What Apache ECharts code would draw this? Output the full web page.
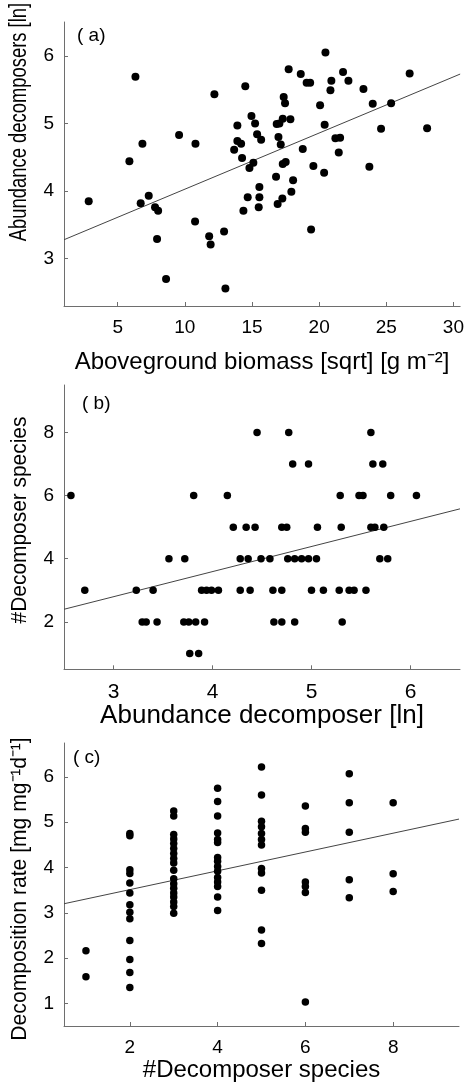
<!DOCTYPE html>
<html><head><meta charset="utf-8">
<script src="https://cdn.jsdelivr.net/npm/echarts@6/dist/echarts.min.js"></script>
<style>html,body{margin:0;padding:0;background:#fff}#c{width:467px;height:1083px}</style>
</head><body><div id="c"></div>
<script>
// ---- Panel (a): aboveground biomass vs abundance of decomposers ----
const biomassA = [6.32,12.2,14.5,17.73,18.63,19.07,19.33,20.47,20.91,21.78,22.18,20.84,23.3,26.74,23.99,25.36,17.36,17.46,20.07,14.96,
  15.23,13.91,16.84,17.04,17.29,17.86,20.41,9.57,6.84,10.79,15.38,15.68,13.91,14.19,16.97,17.14,24.61,28.04,21.21,21.56,
  5.87,13.67,14.26,18.78,21.46,15.10,14.81,17.29,17.51,19.57,20.37,23.74,16.79,18.06,15.55,2.84,7.31,6.71,7.78,8.01,
  14.68,15.55,14.36,15.50,16.91,17.26,17.93,19.40,10.76,11.81,11.92,12.92,7.93,8.60,13.02];
const abundanceA = [5.69,5.43,5.55,5.80,5.73,5.60,5.60,6.05,5.63,5.76,5.63,5.49,5.51,5.74,5.29,5.30,5.39,5.30,5.27,5.11,
  5.00,4.97,4.99,5.00,5.07,5.06,4.98,4.83,4.70,4.70,4.84,4.76,4.74,4.70,4.80,4.69,4.92,4.93,4.78,4.79,
  4.44,4.61,4.49,4.62,4.57,4.42,4.34,4.40,4.43,4.37,4.27,4.36,4.21,4.16,4.06,3.85,3.93,3.82,3.76,3.71,
  3.91,3.91,3.71,3.76,3.81,3.89,3.99,3.43,3.55,3.33,3.21,3.40,3.29,2.70,2.56];
const fitAx = [1, 30.5];
const fitAy = [3.28, 5.73];
const ticksAx = [5,10,15,20,25,30];
const ticksAy = [3,4,5,6];

// ---- Panel (b): abundance of decomposers vs number of decomposer species ----
const abundanceB = [4.45,4.77,5.60,
  4.81,4.97,5.62,5.72,
  2.57,3.81,4.15,5.29,5.48,5.52,5.80,6.06,
  4.21,4.34,4.43,4.70,4.75,5.06,5.30,5.60,5.64,5.73,
  3.56,3.72,4.28,4.36,4.49,4.58,4.76,4.83,4.90,4.97,5.05,5.69,5.77,
  2.71,3.23,3.40,3.89,3.94,3.99,4.06,4.28,4.38,4.61,4.70,5.00,5.12,5.28,5.38,5.43,5.55,
  3.29,3.33,3.44,3.71,3.76,3.83,3.92,4.62,4.70,4.83,5.31,
  3.77,3.86];
const speciesB = [8,8,8,
  7,7,7,7,
  6,6,6,6,6,6,6,6,
  5,5,5,5,5,5,5,5,5,5,
  4,4,4,4,4,4,4,4,4,4,4,4,4,
  3,3,3,3,3,3,3,3,3,3,3,3,3,3,3,3,3,
  2,2,2,2,2,2,2,2,2,2,2,
  1,1];
const fitBx = [2.5, 6.5];
const fitBy = [2.40, 5.58];
const ticksBx = [3,4,5,6];
const ticksBy = [2,4,6,8];

// ---- Panel (c): number of decomposer species vs decomposition rate ----
const speciesC = [1,1,
  2,2,2,2,2,2,2,2,2,2,2,2,2,
  3,3,3,3,3,3,3,3,3,3,3,3,3,3,3,3,3,3,
  4,4,4,4,4,4,4,4,4,4,4,4,4,4,4,
  5,5,5,5,5,5,5,5,5,5,5,5,
  6,6,6,6,6,6,6,
  7,7,7,7,7,
  8,8,8];
const rateC = [2.16,1.59,
  4.75,4.70,3.95,3.87,3.66,3.44,3.18,3.01,2.87,2.39,1.97,1.68,1.35,
  5.25,5.14,4.73,4.63,4.53,4.42,4.31,4.20,4.10,3.94,3.75,3.64,3.54,3.44,3.35,3.24,3.14,2.99,
  5.75,5.46,5.14,4.76,4.62,4.55,4.22,4.14,4.02,3.92,3.78,3.68,3.58,3.35,3.05,
  6.22,5.60,5.02,4.90,4.75,4.62,4.50,3.98,3.88,3.50,2.62,2.32,
  5.36,4.86,4.78,3.68,3.58,3.45,1.03,
  6.07,5.43,4.78,3.73,3.33,
  5.43,3.86,3.47];
const fitCx = [0.5, 9.5];
const fitCy = [3.20, 5.07];
const ticksCx = [2,4,6,8];
const ticksCy = [1,2,3,4,5,6];

const titlesY = ['Abundance decomposers [ln]', '#Decomposer species', 'Decomposition rate [mg mg\u207B\u00B9d\u207B\u00B9]'];
const titlesX = ['Aboveground biomass [sqrt] [g m\u207B\u00B2]', 'Abundance decomposer [ln]', '#Decomposer species'];
const panelTags = ['( a)', '( b)', '( c)'];

const FONT = 'Liberation Sans, Arial, sans-serif';
const AXC = '#6e6e6e';

function pairs(xs, ys){ return xs.map((x,i)=>[x, ys[i]]); }

function xAxis(gi, min, max, ticks, name, gap, fs, nfs){
  return {type:'value', gridIndex:gi, min:min, max:max,
    axisLine:{show:true, onZero:false, lineStyle:{color:AXC, width:1}},
    axisTick:{show:true, inside:true, length:4, customValues:ticks, lineStyle:{color:AXC}},
    axisLabel:{customValues:ticks, color:'#000', fontSize:fs, fontFamily:FONT, margin:12},
    splitLine:{show:false},
    name:name, nameLocation:'middle', nameGap:gap,
    nameTextStyle:{color:'#000', fontSize:nfs, fontFamily:FONT}};
}
function yAxis(gi, min, max, ticks, fs){
  return {type:'value', gridIndex:gi, min:min, max:max,
    axisLine:{show:true, onZero:false, lineStyle:{color:AXC, width:1}},
    axisTick:{show:true, inside:true, length:4, customValues:ticks, lineStyle:{color:AXC}},
    axisLabel:{customValues:ticks, color:'#000', fontSize:fs, fontFamily:FONT, margin:10},
    splitLine:{show:false}};
}
function yTitle(text, cx, cy, fs, sx){
  return {type:'text', x:cx, y:cy, rotation:Math.PI/2, scaleX:sx, scaleY:1, silent:true,
    style:{text:text, fontSize:fs, fontFamily:FONT, fill:'#000', align:'center', verticalAlign:'middle'}};
}
function scatter(i, xs, ys, size){
  return {type:'scatter', xAxisIndex:i, yAxisIndex:i, data:pairs(xs, ys),
    symbol:'circle', symbolSize:size, itemStyle:{color:'#000', opacity:1}, silent:true};
}
function fit(i, xs, ys){
  return {type:'line', xAxisIndex:i, yAxisIndex:i, data:pairs(xs, ys),
    symbol:'none', lineStyle:{color:'#444', width:1}, silent:true, z:1};
}
function tag(text, l, t){
  return {text:text, left:l, top:t, padding:0, textStyle:{fontSize:19, fontWeight:'normal', fontFamily:FONT, color:'#000'}};
}

const chart = echarts.init(document.getElementById('c'), null, {renderer:'canvas'});
chart.setOption({
  animation:false,
  backgroundColor:'#fff',
  title:[ tag(panelTags[0], 77, 26), tag(panelTags[1], 82, 394), tag(panelTags[2], 73, 748) ],
  grid:[
    {left:64, right:6, top:22, height:284},
    {left:64, right:7, top:385, height:284.3},
    {left:64, right:8, top:743, height:283}
  ],
  xAxis:[
    xAxis(0, 1, 30.5, ticksAx, titlesX[0], 44, 19, 24),
    xAxis(1, 2.5, 6.5, ticksBx, titlesX[1], 30, 21, 26),
    xAxis(2, 0.5, 9.5, ticksCx, titlesX[2], 28, 19, 24)
  ],
  yAxis:[
    yAxis(0, 2.3, 6.5, ticksAy, 19),
    yAxis(1, 0.5, 9.5, ticksBy, 19),
    yAxis(2, 0.5, 6.75, ticksCy, 19)
  ],
  graphic:[
    yTitle(titlesY[0], 20, 122, 23, 0.8),
    yTitle(titlesY[1], 20, 520, 22, 0.95),
    yTitle(titlesY[2], 20, 889, 22, 0.96)
  ],
  series:[
    fit(0, fitAx, fitAy), scatter(0, biomassA, abundanceA, 8),
    fit(1, fitBx, fitBy), scatter(1, abundanceB, speciesB, 7.5),
    fit(2, fitCx, fitCy), scatter(2, speciesC, rateC, 7.5)
  ]
});
</script>
</body></html>
